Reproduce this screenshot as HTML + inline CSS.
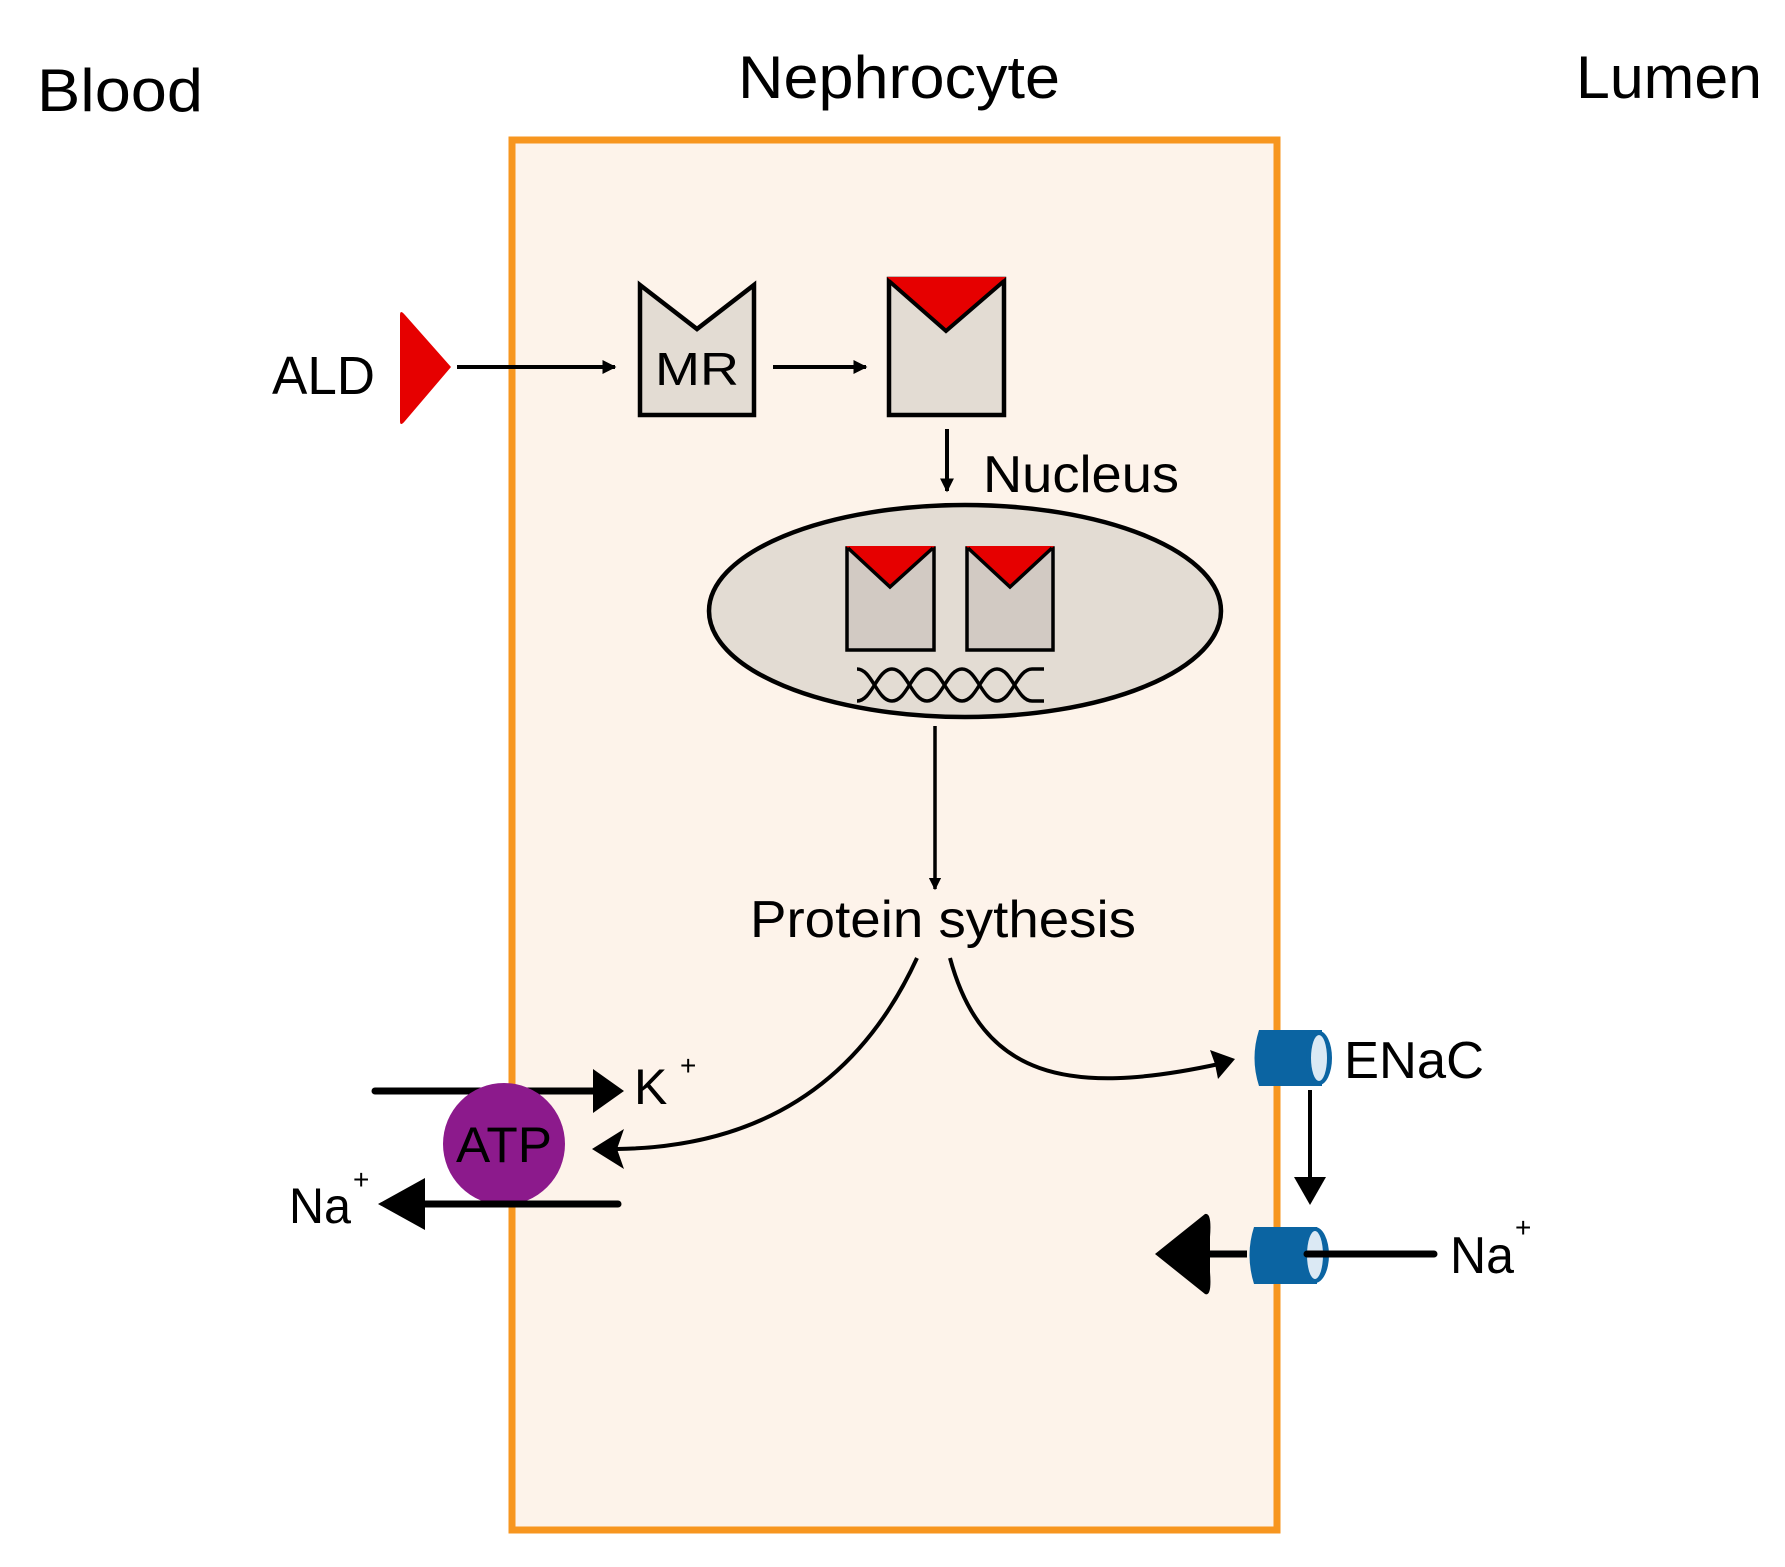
<!DOCTYPE html>
<html><head><meta charset="utf-8"><style>html,body{margin:0;padding:0;background:#fff}svg{display:block}</style></head>
<body>
<svg width="1785" height="1567" viewBox="0 0 1785 1567" xmlns="http://www.w3.org/2000/svg" font-family="Liberation Sans, sans-serif">
<defs>
<marker id="a" viewBox="0 0 10 10" refX="9" refY="5" markerWidth="3.5" markerHeight="3.5" orient="auto"><path d="M0,0L10,5L0,10z" fill="#000"/></marker>
</defs>
<rect width="1785" height="1567" fill="#fff"/>
<g transform="translate(-3,-3)">
<text x="40" y="114" font-size="60" textLength="166" lengthAdjust="spacingAndGlyphs">Blood</text>
<text x="741" y="101" font-size="60" textLength="322" lengthAdjust="spacingAndGlyphs">Nephrocyte</text>
<text x="1579" y="101" font-size="60" textLength="186" lengthAdjust="spacingAndGlyphs">Lumen</text>
<rect x="515" y="143" width="765" height="1390" fill="#fdf3ea" stroke="#f7961f" stroke-width="7"/>
<text x="275" y="397" font-size="54" textLength="103" lengthAdjust="spacingAndGlyphs">ALD</text>
<path d="M403,318 Q403,312 408,318 L454,370 L408,424 Q403,430 403,424 Z" fill="#e60000"/>
<line x1="460" y1="370" x2="618" y2="370" stroke="#000" stroke-width="4" marker-end="url(#a)"/>
<path d="M643,288 L700,332 L757,288 L757,418 L643,418 Z" fill="#e3dcd3" stroke="#000" stroke-width="4.5" stroke-linejoin="miter"/>
<text x="700" y="388" font-size="46" text-anchor="middle" textLength="84" lengthAdjust="spacingAndGlyphs">MR</text>
<line x1="776" y1="370" x2="869" y2="370" stroke="#000" stroke-width="4" marker-end="url(#a)"/>
<rect x="892" y="282" width="115" height="136" fill="#e3dcd3" stroke="#000" stroke-width="4.5"/>
<path d="M890,280 L1009,280 L949,334 Z" fill="#e60000"/>
<path d="M892,284 L949,334 L1007,284" fill="none" stroke="#000" stroke-width="4"/>
<line x1="950" y1="432" x2="950" y2="494" stroke="#000" stroke-width="4" marker-end="url(#a)"/>
<text x="986" y="495" font-size="52" textLength="196" lengthAdjust="spacingAndGlyphs">Nucleus</text>
<ellipse cx="968" cy="614" rx="256" ry="106" fill="#e3dcd3" stroke="#000" stroke-width="4.5"/>
<g stroke="#000" stroke-width="3.5">
<rect x="850" y="551" width="87" height="102" fill="#d2cac3"/>
<rect x="970" y="551" width="86" height="102" fill="#d2cac3"/>
</g>
<path d="M849,549 L938,549 L893,590 Z" fill="#e60000"/>
<path d="M969,549 L1057,549 L1013,590 Z" fill="#e60000"/>
<path d="M851,551 L893,590 L936,551 M971,551 L1013,590 L1055,551" fill="none" stroke="#000" stroke-width="3.5"/>
<g fill="none" stroke="#000" stroke-width="3.5">
<path d="M860,672 C875,672 880,704 895,704 C910,704 915,672 930,672 C945,672 950,704 965,704 C980,704 985,672 1000,672 C1015,672 1020,704 1035,704 L1047,704"/>
<path d="M860,704 C875,704 880,672 895,672 C910,672 915,704 930,704 C945,704 950,672 965,672 C980,672 985,704 1000,704 C1015,704 1020,672 1035,672 L1047,672"/>
</g>
<line x1="938" y1="729" x2="938" y2="892" stroke="#000" stroke-width="3.5" marker-end="url(#a)"/>
<text x="753" y="940" font-size="52" textLength="386" lengthAdjust="spacingAndGlyphs">Protein sythesis</text>
<path d="M920,961 C870,1070 780,1150 620,1152" fill="none" stroke="#000" stroke-width="4"/>
<path d="M595,1152 L627,1132 L620,1152 L627,1172 Z" fill="#000"/>
<path d="M953,961 C985,1080 1070,1100 1222,1067" fill="none" stroke="#000" stroke-width="4"/>
<path d="M1238,1062 L1213,1053 L1218,1067 L1221,1082 Z" fill="#000"/>
<path d="M1262,1033 L1325,1033 L1325,1089 L1262,1089 Q1253,1061 1262,1033 Z" fill="#0b64a2"/>
<ellipse cx="1322" cy="1061" rx="13" ry="27" fill="#0b64a2"/>
<ellipse cx="1322" cy="1061" rx="8" ry="23" fill="#dbe9f4"/>
<text x="1347" y="1081" font-size="52" textLength="140" lengthAdjust="spacingAndGlyphs">ENaC</text>
<line x1="1313" y1="1093" x2="1313" y2="1180" stroke="#000" stroke-width="4"/>
<path d="M1297,1180 L1329,1180 L1313,1208 Z" fill="#000"/>
<path d="M1257,1230 L1320,1230 L1320,1287 L1257,1287 Q1248,1258 1257,1230 Z" fill="#0b64a2"/>
<ellipse cx="1318" cy="1258" rx="14" ry="28" fill="#0b64a2"/>
<ellipse cx="1318" cy="1258" rx="8" ry="24" fill="#dbe9f4"/>
<line x1="1210" y1="1257" x2="1250" y2="1257" stroke="#000" stroke-width="7"/>
<line x1="1310" y1="1257" x2="1437" y2="1257" stroke="#000" stroke-width="7" stroke-linecap="round"/>
<path d="M1158,1257 L1208,1217 Q1215,1215 1213,1240 L1213,1275 Q1215,1300 1208,1297 Z" fill="#000"/>
<text x="1453" y="1276" font-size="52" textLength="64" lengthAdjust="spacingAndGlyphs">Na</text>
<text x="1518" y="1240" font-size="28">+</text>
<line x1="378" y1="1094" x2="600" y2="1094" stroke="#000" stroke-width="7" stroke-linecap="round"/>
<path d="M627,1094 L596,1072 L596,1116 Z" fill="#000"/>
<text x="637" y="1107" font-size="50">K</text>
<text x="683" y="1078" font-size="28">+</text>
<circle cx="507" cy="1147" r="61" fill="#8c1a8c"/>
<text x="507" y="1165" font-size="50" text-anchor="middle" textLength="96" lengthAdjust="spacingAndGlyphs">ATP</text>
<line x1="425" y1="1207" x2="621" y2="1207" stroke="#000" stroke-width="7" stroke-linecap="round"/>
<path d="M381,1207 L428,1181 L428,1233 Z" fill="#000"/>
<text x="292" y="1226" font-size="50" textLength="62" lengthAdjust="spacingAndGlyphs">Na</text>
<text x="356" y="1192" font-size="28">+</text>
</g>
</svg>
</body></html>
